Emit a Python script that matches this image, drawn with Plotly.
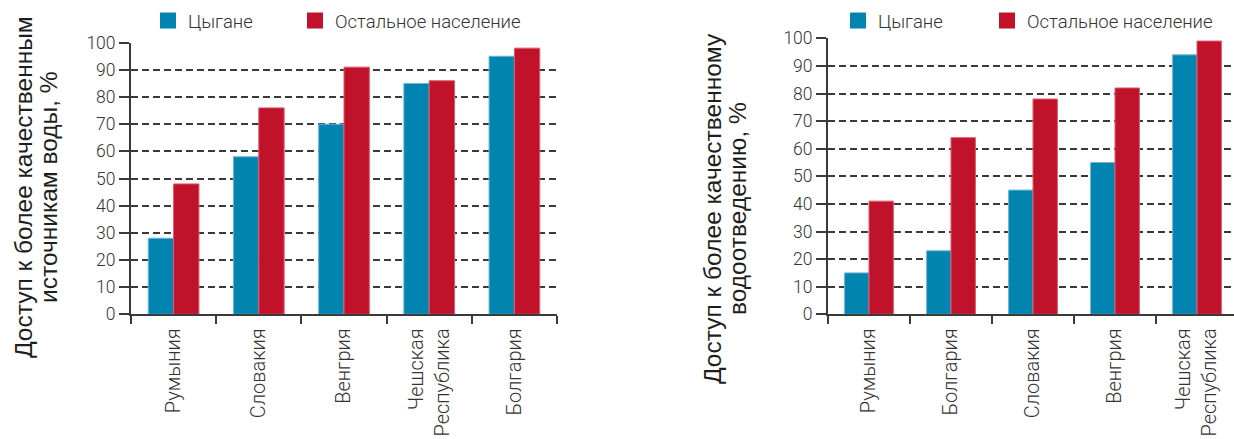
import plotly.graph_objects as go

# Water access panel
water_countries = ["Румыния", "Словакия", "Венгрия", "Чешская<br>Республика", "Болгария"]
water_roma = [28, 58, 70, 85, 95]
water_rest = [48, 76, 91, 86, 98]

# Sanitation panel
sewer_countries = ["Румыния", "Болгария", "Словакия", "Венгрия", "Чешская<br>Республика"]
sewer_roma = [15, 23, 45, 55, 94]
sewer_rest = [41, 64, 78, 82, 99]

series_names = ["Цыгане", "Остальное население"]
y_ticks = list(range(0, 101, 10))

water_title = ["Доступ к более качественным", "источникам воды, %"]
sewer_title = ["Доступ к более качественному", "водоотведению, %"]

BLUE = "#0284b1"
RED = "#c0122b"
BLUE_EDGE = "#6fb5d3"
RED_EDGE = "#dc5a6b"
INK = "#3a3a3a"
TEXT = "#333333"

W, H = 1234, 439
YTICK_FONT = dict(family="Roboto", size=17.5, color=TEXT, weight=300)
XTICK_FONT = dict(family="Roboto", size=20, color=TEXT, weight=300)
LEGEND_FONT = dict(family="Roboto", size=18.5, color=TEXT, weight=300)
TITLE_FONT = dict(family="Liberation Sans", size=24.5, color="#1e1e1e")

fig = go.Figure()


def add_panel(cats, roma, rest, xa, ya, legend, first_width):
    fig.add_trace(go.Bar(x=cats, y=roma, name=series_names[0], xaxis=xa, yaxis=ya,
                         marker=dict(color=BLUE, line=dict(color=BLUE_EDGE, width=1)),
                         showlegend=False))
    fig.add_trace(go.Bar(x=cats, y=rest, name=series_names[1], xaxis=xa, yaxis=ya,
                         marker=dict(color=RED, line=dict(color=RED_EDGE, width=1)),
                         showlegend=False))
    # square legend keys
    fig.add_trace(go.Scatter(x=[None], y=[None], mode="markers", name=series_names[0],
                             xaxis=xa, yaxis=ya, legend=legend, legendwidth=first_width,
                             marker=dict(symbol="square", size=16, color=BLUE)))
    fig.add_trace(go.Scatter(x=[None], y=[None], mode="markers", name=series_names[1],
                             xaxis=xa, yaxis=ya, legend=legend,
                             marker=dict(symbol="square", size=16, color=RED)))


add_panel(water_countries, water_roma, water_rest, "x", "y", "legend", 102)
add_panel(sewer_countries, sewer_roma, sewer_rest, "x2", "y2", "legend2", 104)


def px_x(v):
    return v / W


def px_y(v):
    return (H - v) / H


xcommon = dict(type="category", showline=True, linecolor=INK, linewidth=2,
               ticks="outside", ticklen=8, tickwidth=1.5, tickcolor=INK,
               tickson="boundaries", tickangle=-90, tickfont=XTICK_FONT,
               ticklabelstandoff=4, showgrid=False, zeroline=False, fixedrange=True)
ycommon = dict(range=[0, 100], tickvals=y_ticks, showline=True, linecolor=INK,
               linewidth=2, ticks="outside", ticklen=10, tickwidth=1.5, tickcolor=INK,
               tickfont=YTICK_FONT, showgrid=True, gridcolor=INK, gridwidth=1.5,
               griddash="7px,4px", zeroline=False, fixedrange=True)

# right panel continues past the page edge: only part of the last group is shown
right_left = 828
cat_w = 82
right_end = -0.5 + (W - right_left) / cat_w

annotations = []
for title, xs, yc in [(water_title, (23, 48), 187), (sewer_title, (712, 737), 209)]:
    for line, xc in zip(title, xs):
        annotations.append(dict(text=line, textangle=-90, xref="paper", yref="paper",
                                x=px_x(xc), y=px_y(yc), xanchor="center", yanchor="middle",
                                showarrow=False, font=TITLE_FONT))

fig.update_layout(
    width=W, height=H, autosize=False,
    margin=dict(l=0, r=0, t=0, b=0, autoexpand=False),
    paper_bgcolor="white", plot_bgcolor="white",
    barmode="group", bargap=0.405, bargroupgap=0,
    xaxis=dict(domain=[px_x(131), px_x(557)], range=[-0.5, 4.5], anchor="y", **xcommon),
    yaxis=dict(domain=[px_y(314.3), px_y(42.7)], anchor="x", **ycommon),
    xaxis2=dict(domain=[px_x(right_left), 1.0], range=[-0.5, right_end], anchor="y2", **xcommon),
    yaxis2=dict(domain=[px_y(314.3), px_y(38.3)], anchor="x2", **ycommon),
    legend=dict(orientation="h", x=px_x(148), xanchor="left", y=px_y(21), yanchor="middle",
                font=LEGEND_FONT, bgcolor="rgba(0,0,0,0)", borderwidth=0, itemclick=False),
    legend2=dict(orientation="h", x=px_x(838), xanchor="left", y=px_y(21), yanchor="middle",
                 font=LEGEND_FONT, bgcolor="rgba(0,0,0,0)", borderwidth=0, itemclick=False),
    annotations=annotations,
)

fig.write_html("out.html")
